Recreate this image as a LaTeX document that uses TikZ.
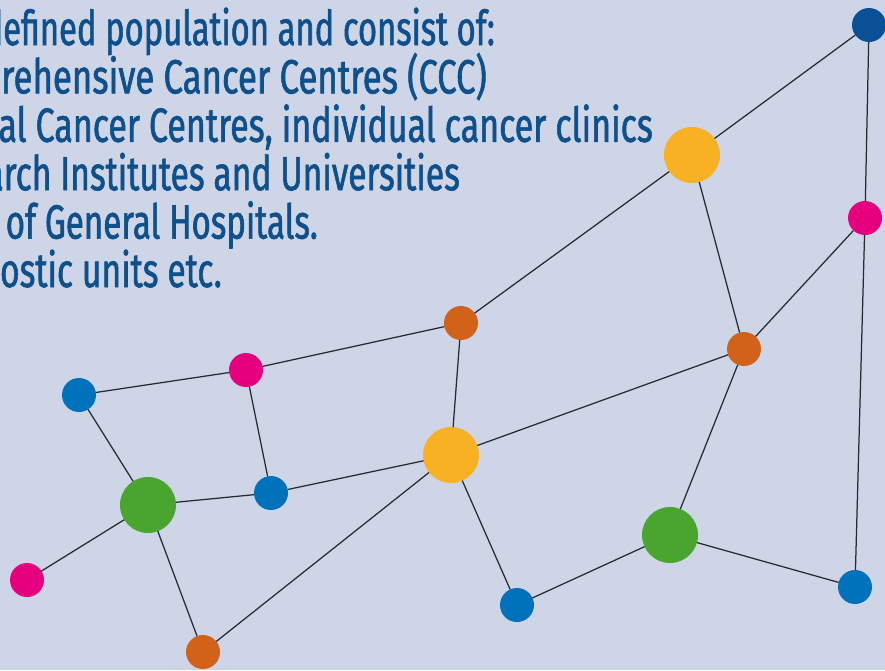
\documentclass[tikz,border=0pt]{standalone}
\usepackage{fontspec}
\newfontfamily\txtfont[FakeStretch=0.70,FakeBold=1.2]{Fira Sans}
\definecolor{bgc}{RGB}{205,213,230}
\definecolor{txtc}{RGB}{14,80,140}
\definecolor{dblue}{RGB}{10,80,150}
\definecolor{nblue}{RGB}{0,114,188}
\definecolor{npink}{RGB}{230,0,126}
\definecolor{norange}{RGB}{210,97,26}
\definecolor{nyellow}{RGB}{247,177,34}
\definecolor{ngreen}{RGB}{74,165,46}
\definecolor{edgec}{RGB}{40,42,50}
\tikzset{
  dot/.style={circle,inner sep=0pt,outer sep=0pt,minimum size=34pt},
  bigdot/.style={circle,inner sep=0pt,outer sep=0pt,minimum size=56pt},
  txt/.style={anchor=base east,inner sep=0pt,text=txtc,font=\txtfont\fontsize{48}{50}\selectfont},
  link/.style={draw=edgec,line width=1.25pt}
}
\begin{document}
\begin{tikzpicture}[x=1pt,y=-1pt]
\fill[bgc] (0,0) rectangle (885,670);
\useasboundingbox (0,0) rectangle (885,670);
\begin{scope}
\clip (0,0) rectangle (885,670);
\node[txt,xscale=0.975] (l1) at (495,45) {defined population and consist of:};
\node[txt,xscale=1.036] (l2) at (487,93.4) {rehensive Cancer Centres (CCC)};
\node[txt,xscale=1.012] (l3) at (653,141.8) {al Cancer Centres, individual cancer clinics};
\node[txt] (l4) at (460,190.2) {arch Institutes and Universities};
\node[txt,xscale=0.985] (l5) at (318,238.6) {of General Hospitals.};
\node[txt] (l6) at (222,287) {ostic units etc.};
\end{scope}
% nodes
\node[dot,fill=dblue] (tb) at (869,25) {};
\node[bigdot,fill=nyellow] (y1) at (692,155) {};
\node[dot,fill=npink] (pr) at (865,218) {};
\node[dot,fill=norange] (o1) at (461,323) {};
\node[dot,fill=norange] (o2) at (744,349) {};
\node[dot,fill=npink] (pm) at (246,370) {};
\node[dot,fill=nblue] (bl) at (79,395) {};
\node[bigdot,fill=nyellow] (y2) at (451,455) {};
\node[bigdot,fill=ngreen] (g1) at (148,505) {};
\node[dot,fill=nblue] (b2) at (271,493) {};
\node[dot,fill=npink] (pl) at (27,580) {};
\node[dot,fill=norange] (ob) at (203,652) {};
\node[dot,fill=nblue] (bb) at (517,605) {};
\node[bigdot,fill=ngreen] (g2) at (670,535) {};
\node[dot,fill=nblue] (br) at (855,587) {};
% links
\draw[link] (tb) -- (y1);
\draw[link] (tb) -- (pr);
\draw[link] (y1) -- (o1);
\draw[link] (y1) -- (o2);
\draw[link] (pr) -- (o2);
\draw[link] (pr) -- (br);
\draw[link] (o1) -- (pm);
\draw[link] (o1) -- (y2);
\draw[link] (o2) -- (y2);
\draw[link] (o2) -- (g2);
\draw[link] (pm) -- (bl);
\draw[link] (pm) -- (b2);
\draw[link] (bl) -- (g1);
\draw[link] (g1) -- (b2);
\draw[link] (g1) -- (pl);
\draw[link] (g1) -- (ob);
\draw[link] (b2) -- (y2);
\draw[link] (y2) -- (ob);
\draw[link] (y2) -- (bb);
\draw[link] (bb) -- (g2);
\draw[link] (g2) -- (br);
\end{tikzpicture}
\end{document}
